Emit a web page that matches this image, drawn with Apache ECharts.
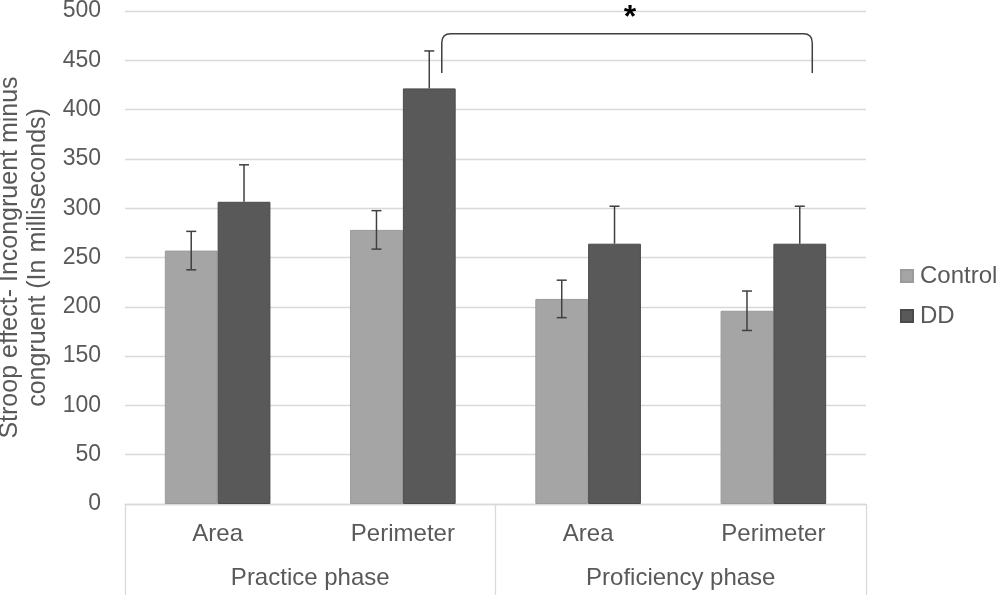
<!DOCTYPE html>
<html>
<head>
<meta charset="utf-8">
<script src="https://cdn.jsdelivr.net/npm/echarts@6/dist/echarts.min.js"></script>
<style>
html,body{margin:0;padding:0;background:#fff;}
#chart{width:1000px;height:595px;}
</style>
</head>
<body>
<div id="chart"></div>
<script>
var categories = ['Area', 'Perimeter', 'Area', 'Perimeter'];
var phases = ['Practice phase', 'Proficiency phase'];
var seriesNames = ['Control', 'DD'];
var controlValues = [257, 278, 208, 196];
var controlErrors = [19.5, 19.5, 19, 20];
var ddValues = [306.5, 421.5, 264, 264];
var ddErrors = [37.5, 38, 38, 38];
var yTicks = [0, 500, 50];
// significance bracket: from category 1 to category 3 (DD bars), bottom and top values, asterisk value
var bracket = [[1, 3, 437, 477, 493]];

var TEXT = '#595959';
var FONT = 'Liberation Sans, Arial, sans-serif';
var BAR_W = 0.285;

function errData(vals, errs) {
  return vals.map(function (v, i) { return [i, v, errs[i]]; });
}

function errRender(sign, lowerToo) {
  return function (params, api) {
    var idx = api.value(0), v = api.value(1), e = api.value(2);
    var band = api.size([1, 0])[0];
    var c = api.coord([idx, v]);
    var x = c[0] + sign * BAR_W * band / 2;
    var top = api.coord([idx, v + e])[1];
    var bot = lowerToo ? api.coord([idx, v - e])[1] : c[1];
    var cap = 5;
    var style = { stroke: '#404040', lineWidth: 1.5, fill: null };
    var children = [
      { type: 'line', shape: { x1: x, y1: top, x2: x, y2: bot }, style: style },
      { type: 'line', shape: { x1: x - cap, y1: top, x2: x + cap, y2: top }, style: style }
    ];
    if (lowerToo) children.push({ type: 'line', shape: { x1: x - cap, y1: bot, x2: x + cap, y2: bot }, style: style });
    return { type: 'group', children: children };
  };
}

var chart = echarts.init(document.getElementById('chart'), null, { renderer: 'canvas' });
chart.setOption({
  backgroundColor: '#fff',
  textStyle: { fontFamily: FONT },
  grid: { left: 125, right: 134, top: 11, bottom: 91, containLabel: false, outerBoundsMode: 'none' },
  legend: {
    data: seriesNames,
    orient: 'vertical',
    left: 895, top: 259,
    itemWidth: 12, itemHeight: 12, itemGap: 16,
    icon: 'rect',
    textStyle: { color: TEXT, fontSize: 24, fontFamily: FONT, padding: [0, 0, 0, 2] }
  },
  xAxis: [{
    type: 'category',
    data: categories,
    position: 'bottom',
    axisLine: { show: true, lineStyle: { color: '#d9d9d9', width: 1.3 } },
    axisTick: { show: false },
    axisLabel: { color: TEXT, fontSize: 24, fontFamily: FONT, margin: 18 },
    splitLine: { show: false }
  }, {
    type: 'category',
    data: phases,
    position: 'bottom',
    axisLine: { show: false },
    axisTick: { show: true, length: 91, lineStyle: { color: '#d9d9d9', width: 1.3 } },
    axisLabel: { color: TEXT, fontSize: 24, fontFamily: FONT, margin: 62 },
    splitLine: { show: false }
  }],
  yAxis: {
    type: 'value',
    min: yTicks[0], max: yTicks[1], interval: yTicks[2],
    name: 'Stroop effect- Incongruent minus\ncongruent (In milliseconds)',
    nameLocation: 'middle',
    nameGap: 64,
    nameTextStyle: { color: TEXT, fontSize: 25, fontFamily: FONT, lineHeight: 28 },
    axisLine: { show: false },
    axisTick: { show: false },
    axisLabel: { color: TEXT, fontSize: 23, fontFamily: FONT, margin: 24 },
    splitLine: { lineStyle: { color: '#d9d9d9', width: 1.3 } }
  },
  series: [{
    name: 'Control', type: 'bar', xAxisIndex: 0,
    data: controlValues, barWidth: (BAR_W * 100) + '%', barGap: '0%',
    itemStyle: { color: '#a5a5a5', borderColor: '#9a9a9a', borderWidth: 1 }
  }, {
    name: 'DD', type: 'bar', xAxisIndex: 0,
    data: ddValues, barWidth: (BAR_W * 100) + '%', barGap: '0%',
    itemStyle: { color: '#595959', borderColor: '#4a4a4a', borderWidth: 1 }
  }, {
    type: 'custom', name: 'ctrlErr', xAxisIndex: 0, z: 5,
    data: errData(controlValues, controlErrors),
    encode: { x: 0, y: 1 },
    renderItem: errRender(-1, true), silent: true
  }, {
    type: 'custom', name: 'ddErr', xAxisIndex: 0, z: 5,
    data: errData(ddValues, ddErrors),
    encode: { x: 0, y: 1 },
    renderItem: errRender(1, false), silent: true
  }, {
    type: 'custom', name: 'bracket', xAxisIndex: 0, z: 6, silent: true,
    data: bracket,
    encode: { x: [0, 1], y: [2, 3] },
    renderItem: function (params, api) {
      var band = api.size([1, 0])[0];
      var off = 0.21 * band;
      var xl = api.coord([api.value(0), 0])[0] + off;
      var xr = api.coord([api.value(1), 0])[0] + off;
      var yb = api.coord([0, api.value(2)])[1];
      var yt = api.coord([0, api.value(3)])[1];
      var ya = api.coord([0, api.value(4)])[1];
      var r = 9;
      var path = 'M' + xl + ',' + yb + ' L' + xl + ',' + (yt + r) +
        ' Q' + xl + ',' + yt + ' ' + (xl + r) + ',' + yt +
        ' L' + (xr - r) + ',' + yt +
        ' Q' + xr + ',' + yt + ' ' + xr + ',' + (yt + r) +
        ' L' + xr + ',' + yb;
      return {
        type: 'group',
        children: [{
          type: 'path',
          shape: { pathData: path },
          style: { stroke: '#404040', lineWidth: 1.5, fill: null }
        }, {
          type: 'text',
          style: {
            text: '*', x: (xl + xr) / 2 + 3, y: ya,
            textAlign: 'center', textVerticalAlign: 'middle',
            font: 'bold 32px ' + FONT, fill: '#000'
          }
        }]
      };
    }
  }]
});
</script>
</body>
</html>
